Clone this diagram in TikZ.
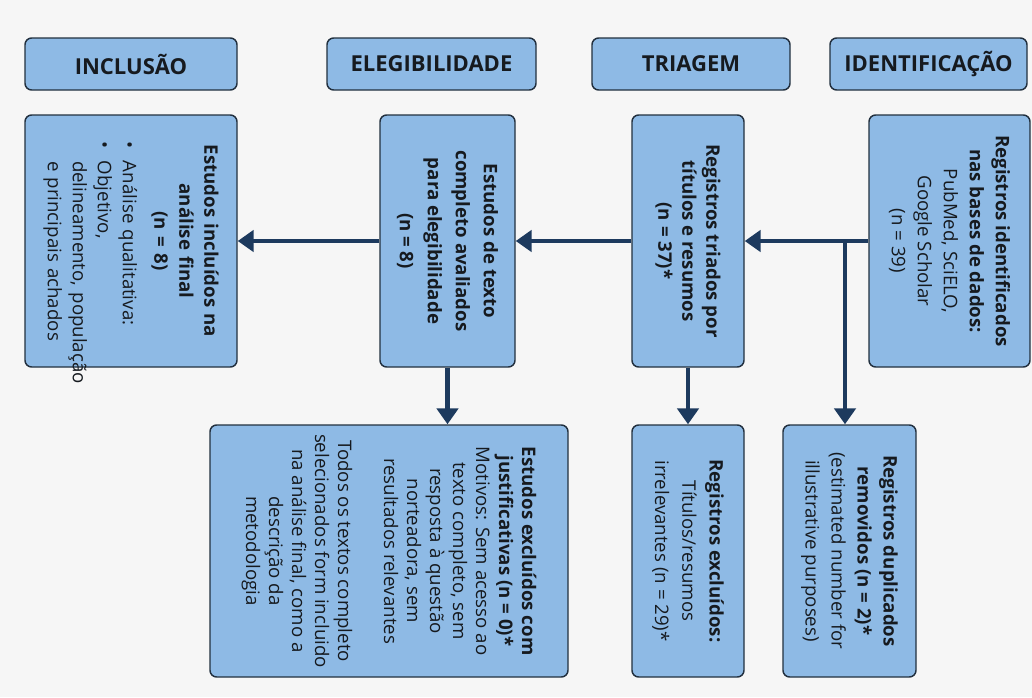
\documentclass[tikz,border=0pt]{standalone}
\usepackage{fontspec}
\setmainfont{Open Sans}
\usepackage{tikz}
\usetikzlibrary{arrows.meta}

\definecolor{bg}{HTML}{F6F6F6}
\definecolor{boxfill}{HTML}{8EBAE5}
\definecolor{boxline}{HTML}{22303F}
\definecolor{arrowc}{HTML}{1D3A5E}
\definecolor{ink}{HTML}{161A1F}

\begin{document}
\begin{tikzpicture}[x=0.75pt,y=-0.75pt,
  hd/.style={draw=boxline,fill=boxfill,line width=1.1pt,rounded corners=5pt,
    minimum height=39pt,text=ink,font=\fontsize{16.5pt}{20pt}\selectfont\bfseries},
  box/.style={draw=boxline,fill=boxfill,line width=1.1pt,rounded corners=5pt,
    rotate=-90,minimum width=189pt,align=center,text=ink,
    font=\fontsize{14pt}{#1}\selectfont},
  box/.default=17.25pt,
  bold/.style={font=\fontsize{14pt}{#1}\selectfont\bfseries},
  arr/.style={draw=arrowc,line width=3.3pt,-{Triangle[width=16pt,length=12pt]}}]
\useasboundingbox[fill=bg] (0,0) rectangle (1032,697);

\node[hd,minimum width=159pt] (hinc) at (131,64) {INCLUSÃO};
\node[hd,minimum width=156.75pt] (hele) at (431.5,64) {ELEGIBILIDADE};
\node[hd,minimum width=148.5pt] (htri) at (691,64) {TRIAGEM};
\node[hd,minimum width=147.75pt] (hide) at (928.5,64) {IDENTIFICAÇÃO};

\node[box=19.5pt,minimum height=120.75pt] (ide) at (949.5,241)
  {\textbf{Registros identificados}\\ \textbf{nas bases de dados:}\\ PubMed, SciELO,\\ Google Scholar\\ (n = 39)};
\node[box,bold=18pt,minimum height=84pt] (tri) at (688,241)
  {Registros triados por\\ títulos e resumos\\ (n = 37)*};
\node[box,bold=21pt,minimum height=101.25pt] (ele) at (447.5,241)
  {Estudos de texto\\ completo avaliados\\ para elegibilidade\\ (n = 8)};
\node[box=18.75pt,minimum height=159pt,text width=150pt] (inc) at (131,241)
  {{\bfseries Estudos incluídos na\\ análise final\\ (n = 8)\par}
   \vspace{5pt}\raggedright
   \makebox[15pt][l]{\textbullet}Análise qualitativa:\\
   \makebox[15pt][l]{\textbullet}Objetivo,\\
   \hspace*{15pt}\mbox{delineamento, população}\\
   \hspace*{15pt}e principais achados};

\node[box,minimum height=268.5pt] (exc) at (389,551)
  {\textbf{Estudos excluídos com}\\ \textbf{justificativas (n = 0)*}\\
   Motivos: Sem acesso ao\\ texto completo, sem\\ resposta à questão\\ norteadora, sem\\
   resultados relevantes\\[17.25pt]
   Todos os textos completo\\ selecionados form incluido\\ na análise final, como a\\
   descrição da\\ metodologia};
\node[box=20.5pt,minimum height=84pt] (rexc) at (688,551)
  {\textbf{Registros excluídos:}\\ Títulos/resumos\\ irrelevantes (n = 29)*};
\node[box=19.5pt,minimum height=99.75pt] (dup) at (849.5,551)
  {\textbf{Registros duplicados}\\ \textbf{removidos (n = 2)*}\\ (estimated number for\\ illustrative purposes)};

\coordinate (br) at (845,241);
\draw[arr] (ide) -- (tri);
\draw[arr] (tri) -- (ele);
\draw[arr] (ele) -- (inc);
\draw[arr] (br) -- (br |- dup.west);
\draw[arr] (tri.east) -- (tri.east |- rexc.west);
\draw[arr] (ele.east) -- (ele.east |- exc.west);
\end{tikzpicture}
\end{document}
